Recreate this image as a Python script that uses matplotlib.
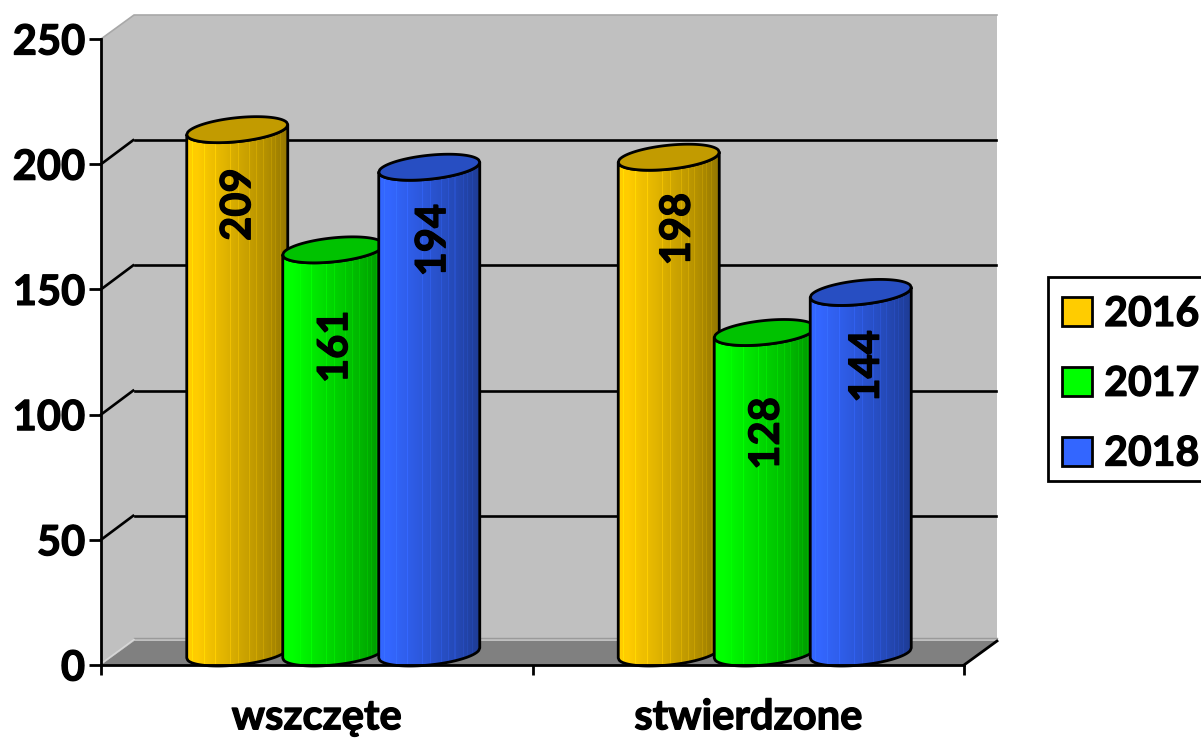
import numpy as np
import matplotlib
matplotlib.use("Agg")
import matplotlib.pyplot as plt
import matplotlib.patheffects as pe
from matplotlib.patches import Polygon, Patch, Rectangle

categories = ["wszczęte", "stwierdzone"]
years = ["2016", "2017", "2018"]
values_2016 = [209, 198]
values_2017 = [161, 128]
values_2018 = [194, 144]
y_ticks = [0, 50, 100, 150, 200, 250]

series = [values_2016, values_2017, values_2018]
face = [np.array([255, 204, 0]) / 255, np.array([0, 255, 0]) / 255, np.array([51, 102, 255]) / 255]

W, H = 1201, 740
plt.rcParams["font.family"] = ["Lato", "DejaVu Sans"]
plt.rcParams["font.weight"] = "bold"
fig = plt.figure(figsize=(W / 100, H / 100), dpi=100)
L, R, B, T = 101, 964, 665, 39
ax = fig.add_axes([L / W, (H - B) / H, (R - L) / W, (B - T) / H])
ax.set_xlim(0, 2)
ax.set_ylim(0, 250)
ax.set_autoscale_on(False)
ppx = (R - L) / 2          # pixels per category
ppy = (B - T) / 250        # pixels per value unit
DX, DY = 33 / ppx, 24 / ppy
heavy = [pe.withStroke(linewidth=0.9, foreground="black")]

# walls and floor
ax.add_patch(Polygon([(DX, DY), (2 + DX, DY), (2 + DX, 250 + DY), (DX, 250 + DY)],
                     fc="#C0C0C0", ec="none", clip_on=False, zorder=1))
ax.add_patch(Polygon([(0, 0), (DX, DY), (DX, 250 + DY), (0, 250)],
                     fc="#C0C0C0", ec="none", clip_on=False, zorder=1))
ax.add_patch(Polygon([(0, 0), (DX, DY), (2 + DX, DY), (2, 0)],
                     fc="#808080", ec="none", clip_on=False, zorder=1.5))
ax.plot([0, DX, 2 + DX], [250, 250 + DY, 250 + DY], color="#A8A8A8", lw=1.2, clip_on=False, zorder=1.4)
ax.plot([DX, 2 + DX], [DY + 1, DY + 1], color="#9A9A9A", lw=1, clip_on=False, zorder=1.6)
ax.plot([0.004, DX], [1, DY + 0.6], color="#D8D8D8", lw=1, clip_on=False, zorder=1.6)
ax.plot([2, 2 + DX], [0, DY], color="black", lw=2, clip_on=False, zorder=1.7)

# gridlines on side and back wall
for v in y_ticks[1:-1]:
    ax.plot([0, DX - 0.002], [v, v + DY], color="black", lw=1.9, clip_on=False, zorder=2)
    ax.plot([DX + 0.003, 2 + DX - 0.003], [v + DY, v + DY], color="black", lw=1.9, clip_on=False, zorder=2)

# cylinders
a_px, tilt_px, b_px = 50.5, 5.0, 12.0
stripes = [0.05, 0.18, 0.29, 0.44, 0.52, 0.63, 0.70, 0.76, 0.84, 0.88, 0.93]
fr = np.linspace(0, 1, 101)
cos_t = 2 * fr - 1
sin_t = -np.sqrt(np.clip(1 - cos_t ** 2, 0, 1))
low = (tilt_px * cos_t + b_px * sin_t) / ppy
upp = (tilt_px * cos_t - b_px * sin_t) / ppy
fm = (fr[:-1] + fr[1:]) / 2
shade = np.interp(fm, [0, 0.10, 0.75, 1.0], [1.0, 1.0, 0.72, 0.58])
for s in stripes:
    i = np.argmin(np.abs(fm - s))
    shade[i] *= 1.1

base_y = DY / 2
spacing = 96 / ppx
half = a_px / ppx
z = 3
for ci in range(len(categories)):
    centre = ci + 0.5 + DX / 2
    for si, vals in enumerate(series):
        cx = centre + (si - 1) * spacing
        top = vals[ci] + base_y
        x = cx + half * cos_t
        X = np.vstack([x, x])
        Y = np.vstack([base_y + low, top + low])
        rgb = np.clip(face[si][None, None, :] * shade[None, :, None], 0, 1)
        ax.pcolormesh(X, Y, rgb, shading="flat", clip_on=False, zorder=z, antialiased=False)
        outline = np.column_stack([np.r_[x, x[::-1]], np.r_[base_y + low, (top + low)[::-1]]])
        ax.add_patch(Polygon(outline, fc="none", ec="black", lw=2, clip_on=False, zorder=z + 0.1, joinstyle="round"))
        cap = np.column_stack([np.r_[x, x[::-1]], np.r_[top + low, (top + upp)[::-1]]])
        ax.add_patch(Polygon(cap, fc=face[si] * 0.76, ec="black", lw=2, clip_on=False, zorder=z + 0.2, joinstyle="round"))
        z += 1

# value labels (offsets from the cap, in pixels)
label_dx = [[1, 2, 4], [9, 2, 6]]
label_dy = [[75, 97, 73], [72, 101, 74]]
for ci in range(len(categories)):
    centre = ci + 0.5 + DX / 2
    for si, vals in enumerate(series):
        cx = centre + (si - 1) * spacing + label_dx[ci][si] / ppx
        ax.text(cx, vals[ci] + base_y - label_dy[ci][si] / ppy, str(vals[ci]), rotation=90,
                ha="center", va="center", fontsize=30, fontweight="bold", color="black",
                zorder=20, clip_on=False, path_effects=heavy)

# axes
for sp in ["top", "right"]:
    ax.spines[sp].set_visible(False)
for sp in ["left", "bottom"]:
    ax.spines[sp].set_linewidth(2)
    ax.spines[sp].set_zorder(15)
ax.patch.set_visible(False)
ax.set_yticks(y_ticks)
ax.set_yticklabels([str(v) for v in y_ticks], fontsize=30, fontweight="bold", path_effects=heavy)
ax.set_xticks([0, 1, 2])
ax.set_xticklabels([])
ax.set_xticks([0.5, 1.5], minor=True)
ax.set_xticklabels(categories, minor=True, fontsize=30, fontweight="bold", path_effects=heavy)
ax.tick_params(axis="y", length=8.5, width=2, pad=3)
ax.tick_params(axis="x", which="major", length=7.5, width=2)
ax.tick_params(axis="x", which="minor", length=0, pad=24)

# legend
fig.add_artist(Rectangle((1048 / W, 1 - 481 / H), 170 / W, 204 / H, transform=fig.transFigure,
                         fc="white", ec="black", lw=2))
handles = [Patch(fc=face[i], ec="black", lw=2, label=years[i]) for i in range(3)]
leg = fig.legend(handles=handles, loc="upper left", bbox_to_anchor=(1062 / W, 1 - 296 / H),
                 bbox_transform=fig.transFigure, borderaxespad=0, fontsize=29.5, frameon=False,
                 borderpad=0, handlelength=0.73, handleheight=0.73, handletextpad=0.3, labelspacing=0.8)
for t in leg.get_texts():
    t.set_path_effects(heavy)

fig.savefig("out.png", dpi=100, facecolor="white")
